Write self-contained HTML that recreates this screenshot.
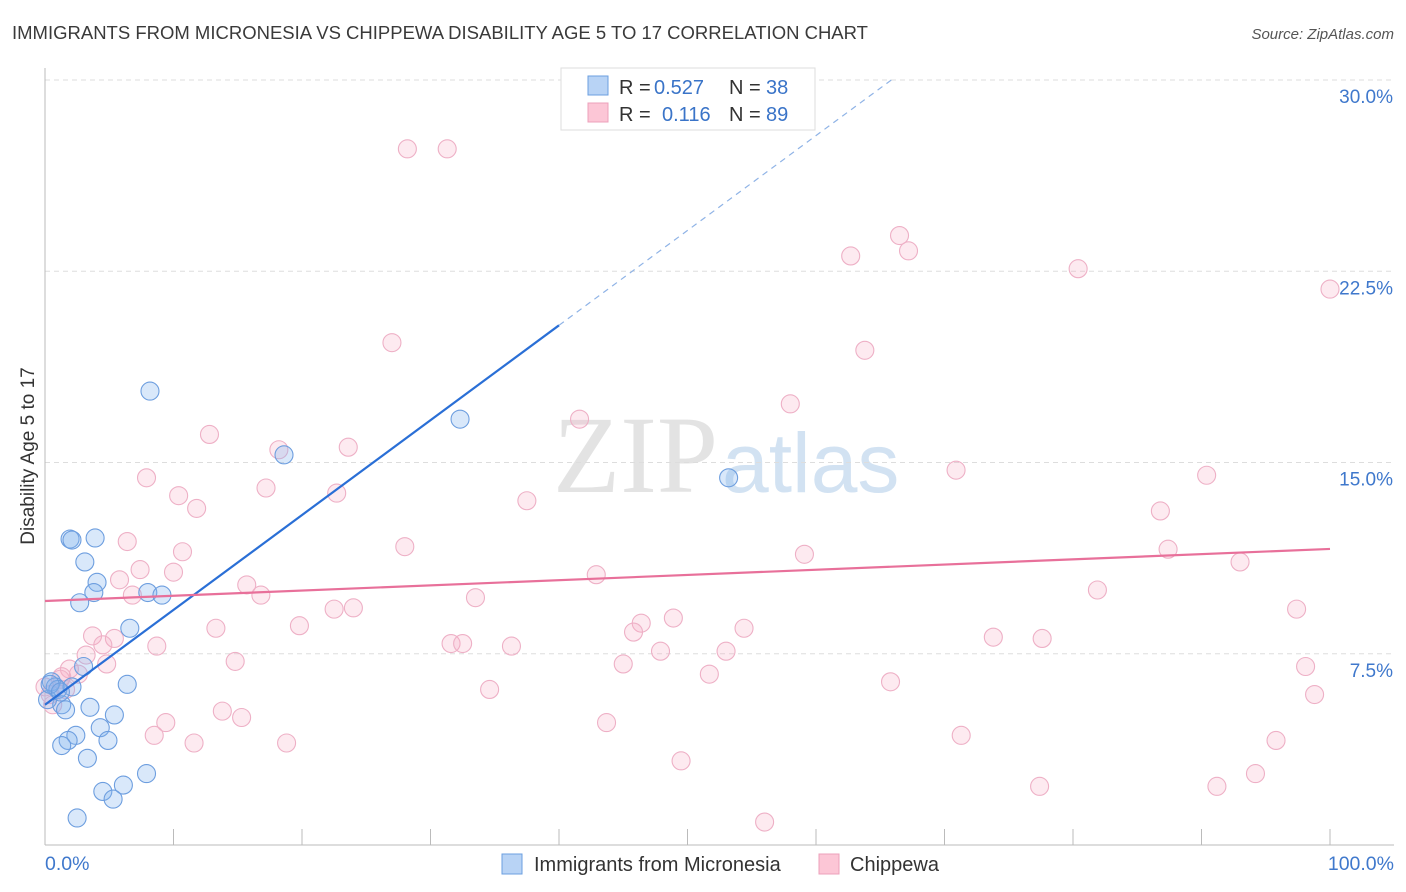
<!DOCTYPE html>
<html><head><meta charset="utf-8"><style>
body{margin:0;background:#fff;font-family:"Liberation Sans",sans-serif;}
</style></head><body>
<svg id="chart" width="1406" height="892" xmlns="http://www.w3.org/2000/svg" style="display:block">
<text x="12" y="39" font-size="18.5" fill="#3a3a3a">IMMIGRANTS FROM MICRONESIA VS CHIPPEWA DISABILITY AGE 5 TO 17 CORRELATION CHART</text>
<text x="1394" y="39" font-size="15" fill="#555" text-anchor="end" font-style="italic">Source: ZipAtlas.com</text>
<text x="553" y="492" font-size="110" fill="#ddd" font-family="Liberation Serif" opacity="0.8">ZIP<tspan fill="#c8dcf0" font-family="Liberation Sans" font-size="84" dx="4">atlas</tspan></text>
<g id="grid"></g>
<g id="axes"></g>
<g id="marks"></g>
<text transform="translate(34,456) rotate(-90)" font-size="19" fill="#333" text-anchor="middle">Disability Age 5 to 17</text>
<g>
<rect x="561" y="68" width="254" height="62" fill="#fff" stroke="#ddd"/>
<rect x="588" y="76" width="20" height="19" fill="#b8d3f5" stroke="#6b9fe0"/>
<rect x="588" y="103" width="20" height="19" fill="#fcc6d6" stroke="#eca0bb"/>
<text x="619" y="94" font-size="20" fill="#333">R =</text>
<text x="654" y="94" font-size="20" fill="#3a74c8">0.527</text>
<text x="729" y="94" font-size="20" fill="#333">N =</text>
<text x="766" y="94" font-size="20" fill="#3a74c8">38</text>
<text x="619" y="121" font-size="20" fill="#333">R =</text>
<text x="662" y="121" font-size="20" fill="#3a74c8">0.116</text>
<text x="729" y="121" font-size="20" fill="#333">N =</text>
<text x="766" y="121" font-size="20" fill="#3a74c8">89</text>
</g>
<g>
<rect x="502" y="854" width="20" height="20" fill="#b8d3f5" stroke="#6b9fe0"/>
<text x="534" y="871" font-size="20" fill="#333">Immigrants from Micronesia</text>
<rect x="819" y="854" width="20" height="20" fill="#fcc6d6" stroke="#eca0bb"/>
<text x="850" y="871" font-size="20" fill="#333">Chippewa</text>
</g>
</svg>
<script>
const xTicks=[0,10,20,30,40,50,60,70,80,90,100];
const yTicks=[7.5,15,22.5,30];
const yTickLabels=["7.5%","15.0%","22.5%","30.0%"];
const xEndLabels=["0.0%","100.0%"];
const blueX=[8.17,32.3,18.6,53.2,1.95,2.1,3.9,3.1,4.05,3.8,2.7,8.0,9.1,6.6,3.0,0.5,0.8,1.0,2.1,6.4,1.3,1.6,3.5,5.4,4.3,2.4,1.8,1.3,4.9,3.3,7.9,6.1,4.5,5.3,2.5,0.2,0.4,1.2];
const blueY=[17.8,16.7,15.3,14.4,12.0,11.96,12.04,11.1,10.3,9.9,9.5,9.9,9.8,8.5,7.0,6.4,6.2,6.1,6.2,6.3,5.5,5.3,5.4,5.1,4.6,4.3,4.1,3.9,4.1,3.4,2.8,2.35,2.1,1.8,1.06,5.7,6.3,6.0];
const pinkX=[28.2,31.3,66.5,62.7,67.2,80.4,100,27.0,63.8,58.0,41.6,12.8,18.2,23.6,70.9,90.4,7.9,17.2,10.4,22.7,37.5,11.8,86.8,6.4,28.0,10.7,59.1,87.4,7.4,10.0,93.0,5.8,42.9,15.7,6.8,16.8,33.5,81.9,22.5,24.0,97.4,48.9,46.4,13.3,19.8,45.8,54.4,3.7,5.4,8.7,4.5,31.6,32.5,36.3,73.8,77.6,47.9,53.0,3.2,4.8,14.8,45.0,98.1,1.9,2.6,1.3,51.7,65.8,98.8,34.6,13.8,9.4,15.3,43.7,8.5,11.6,18.8,71.3,95.8,49.5,94.2,77.4,91.2,56.0,1.2,1.6,0.4,0.6,0];
const pinkY=[27.3,27.3,23.9,23.1,23.3,22.6,21.8,19.7,19.4,17.3,16.7,16.1,15.5,15.6,14.7,14.5,14.4,14.0,13.7,13.8,13.5,13.2,13.1,11.9,11.7,11.5,11.4,11.6,10.8,10.7,11.1,10.4,10.6,10.2,9.8,9.8,9.7,10.0,9.25,9.3,9.25,8.9,8.7,8.5,8.6,8.35,8.5,8.2,8.1,7.8,7.85,7.9,7.9,7.8,8.15,8.1,7.6,7.6,7.45,7.1,7.2,7.1,7.0,6.9,6.7,6.6,6.7,6.4,5.9,6.1,5.25,4.8,5.0,4.8,4.3,4.0,4.0,4.3,4.1,3.3,2.8,2.3,2.3,0.9,6.5,6.1,5.9,5.5,6.2];
const blueTrend=[5.5,0.372];   // intercept, slope
const pinkTrend=[9.57,0.0204];
const NS="http://www.w3.org/2000/svg";
const sx=v=>45+v*12.85, sy=v=>845-v*25.5;
function mk(tag,attrs,parent){const e=document.createElementNS(NS,tag);for(const k in attrs)e.setAttribute(k,attrs[k]);document.getElementById(parent).appendChild(e);return e;}
yTicks.forEach((t,i)=>{
 const l=mk('line',{x1:45,x2:1394,y1:sy(t),y2:sy(t),stroke:'#ddd','stroke-dasharray':'5,4'},'grid');
 
 
 const tx=mk('text',{x:1393,y:sy(t)+23,'font-size':19,fill:'#3f78cc','text-anchor':'end'},'grid');
 tx.textContent=yTickLabels[i];
 
 
});
const ax=mk('line',{x1:45,x2:1394,y1:845,y2:845,stroke:'#bbb'},'axes');


const ay=mk('line',{x1:45,x2:45,y1:68,y2:845,stroke:'#bbb'},'axes');


xTicks.forEach(t=>{const l=mk('line',{x1:sx(t),x2:sx(t),y1:829,y2:845,stroke:'#bbb'},'axes');
 
 });
[[0,'start',45],[100,'end',1394]].forEach((d,i)=>{const t=mk('text',{x:d[2],y:870,'font-size':19.5,fill:'#3f78cc','text-anchor':d[1]},'axes');t.textContent=xEndLabels[i];
 
 });
pinkX.forEach((x,i)=>{const c=mk('circle',{cx:sx(x),cy:sy(pinkY[i]),r:9,fill:'rgba(246,170,196,0.25)',stroke:'#eeb0c6','stroke-width':1.1},'marks');
 
 });
blueX.forEach((x,i)=>{const c=mk('circle',{cx:sx(x),cy:sy(blueY[i]),r:9,fill:'rgba(130,178,238,0.3)',stroke:'#6d9edf','stroke-width':1.1},'marks');
 
 });
const bl=(x)=>blueTrend[0]+blueTrend[1]*x;
const b1=mk('line',{x1:sx(0),y1:sy(bl(0)),x2:sx(40),y2:sy(bl(40)),stroke:'#2a6fd6','stroke-width':2.2},'marks');


const xe=(30-blueTrend[0])/blueTrend[1];
const b2=mk('line',{x1:sx(40),y1:sy(bl(40)),x2:sx(xe),y2:sy(30),stroke:'#8fb3e6','stroke-width':1.2,'stroke-dasharray':'6,5'},'marks');


const pl=(x)=>pinkTrend[0]+pinkTrend[1]*x;
const p1=mk('line',{x1:sx(0),y1:sy(pl(0)),x2:sx(100),y2:sy(pl(100)),stroke:'#e8709a','stroke-width':2.2},'marks');


</script>
</body></html>
